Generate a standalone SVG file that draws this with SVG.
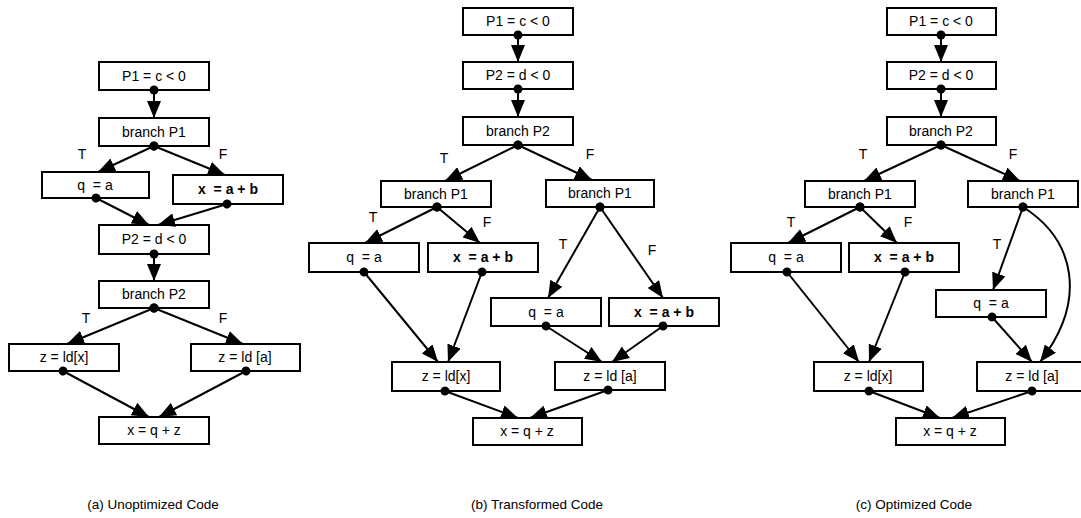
<svg xmlns="http://www.w3.org/2000/svg" width="1081" height="518" viewBox="0 0 1081 518" xml:space="preserve">
  <style>
    .node rect { fill: #fff; stroke: #000; stroke-width: 2; }
    .node text, .lbl, .cap { font-family: "Liberation Sans", Arial, sans-serif; font-size: 14px; text-anchor: middle; fill: #000; white-space: pre; }
    .node text.b { font-weight: bold; }
    .cap { font-size: 13.5px; }
    .edge { stroke: #000; stroke-width: 2; fill: none; marker-start: url(#dot); marker-end: url(#arrow); }
  </style>
  <defs>
    <marker id="arrow" markerUnits="userSpaceOnUse" markerWidth="18" markerHeight="14" refX="17" refY="7" orient="auto">
      <path d="M0,0 L17,7 L0,14 Z" fill="#000"/>
    </marker>
    <marker id="dot" markerUnits="userSpaceOnUse" markerWidth="10" markerHeight="10" refX="5" refY="5" orient="auto">
      <circle cx="5" cy="5" r="4.5" fill="#000"/>
    </marker>
  </defs>
  <rect width="1081" height="518" fill="#fff"/>

  <!-- (a) unoptimized code -->
  <g id="a-p1" class="node"><rect x="99" y="62" width="110" height="28"/><text x="154" y="81">P1 = c &lt; 0</text></g>
  <g id="a-br1" class="node"><rect x="99" y="118" width="110" height="28"/><text x="154" y="137">branch P1</text></g>
  <g id="a-q" class="node"><rect x="42" y="172" width="107" height="26"/><text x="95" y="190" xml:space="preserve">q  = a</text></g>
  <g id="a-x" class="node"><rect x="173" y="175" width="110" height="29"/><text class="b" x="228" y="194" xml:space="preserve">x  = a + b</text></g>
  <g id="a-p2" class="node"><rect x="99" y="225" width="110" height="29"/><text x="154" y="244">P2 = d &lt; 0</text></g>
  <g id="a-br2" class="node"><rect x="99" y="281" width="110" height="27"/><text x="154" y="299">branch P2</text></g>
  <g id="a-ldx" class="node"><rect x="9" y="344" width="110" height="27"/><text x="64" y="362">z = ld[x]</text></g>
  <g id="a-lda" class="node"><rect x="191" y="344" width="109" height="27"/><text x="245" y="362">z = ld [a]</text></g>
  <g id="a-sum" class="node"><rect x="99" y="417" width="110" height="27"/><text x="154" y="435">x = q + z</text></g>

  <!-- (b) transformed code -->
  <g id="b-p1" class="node"><rect x="463" y="8" width="110" height="27"/><text x="518" y="26">P1 = c &lt; 0</text></g>
  <g id="b-p2" class="node"><rect x="463" y="62" width="110" height="27"/><text x="518" y="80">P2 = d &lt; 0</text></g>
  <g id="b-br2" class="node"><rect x="463" y="117" width="110" height="28"/><text x="518" y="136">branch P2</text></g>
  <g id="b-br1t" class="node"><rect x="381" y="181" width="110" height="26"/><text x="436" y="199">branch P1</text></g>
  <g id="b-br1f" class="node"><rect x="546" y="180" width="108" height="27"/><text x="600" y="198">branch P1</text></g>
  <g id="b-q1" class="node"><rect x="309" y="243" width="110" height="29"/><text x="364" y="262" xml:space="preserve">q  = a</text></g>
  <g id="b-x1" class="node"><rect x="428" y="243" width="110" height="29"/><text class="b" x="483" y="262" xml:space="preserve">x  = a + b</text></g>
  <g id="b-q2" class="node"><rect x="491" y="298" width="110" height="28"/><text x="546" y="317" xml:space="preserve">q  = a</text></g>
  <g id="b-x2" class="node"><rect x="609" y="298" width="110" height="28"/><text class="b" x="664" y="317" xml:space="preserve">x  = a + b</text></g>
  <g id="b-ldx" class="node"><rect x="392" y="362" width="108" height="29"/><text x="446" y="381">z = ld[x]</text></g>
  <g id="b-lda" class="node"><rect x="555" y="362" width="110" height="28"/><text x="610" y="381">z = ld [a]</text></g>
  <g id="b-sum" class="node"><rect x="473" y="418" width="109" height="27"/><text x="527" y="436">x = q + z</text></g>

  <!-- (c) optimized code -->
  <g id="c-p1" class="node"><rect x="887" y="8" width="109" height="27"/><text x="941" y="26">P1 = c &lt; 0</text></g>
  <g id="c-p2" class="node"><rect x="887" y="62" width="109" height="27"/><text x="941" y="80">P2 = d &lt; 0</text></g>
  <g id="c-br2" class="node"><rect x="887" y="117" width="109" height="28"/><text x="941" y="136">branch P2</text></g>
  <g id="c-br1t" class="node"><rect x="805" y="181" width="110" height="26"/><text x="860" y="199">branch P1</text></g>
  <g id="c-br1f" class="node"><rect x="968" y="181" width="110" height="26"/><text x="1023" y="199">branch P1</text></g>
  <g id="c-q1" class="node"><rect x="731" y="243" width="110" height="29"/><text x="786" y="262" xml:space="preserve">q  = a</text></g>
  <g id="c-x1" class="node"><rect x="849" y="243" width="110" height="29"/><text class="b" x="904" y="262" xml:space="preserve">x  = a + b</text></g>
  <g id="c-q2" class="node"><rect x="936" y="290" width="110" height="27"/><text x="991" y="308" xml:space="preserve">q  = a</text></g>
  <g id="c-ldx" class="node"><rect x="814" y="362" width="109" height="29"/><text x="868" y="381">z = ld[x]</text></g>
  <g id="c-lda" class="node"><rect x="977" y="362" width="110" height="29"/><text x="1032" y="381">z = ld [a]</text></g>
  <g id="c-sum" class="node"><rect x="896" y="418" width="109" height="27"/><text x="950" y="436">x = q + z</text></g>

  <!-- connectors -->
  <g id="connectors">
    <!-- (a) -->
    <line class="edge" x1="154" y1="90" x2="154" y2="118"/>
    <line class="edge" x1="154" y1="146" x2="98" y2="172"/>
    <line class="edge" x1="154" y1="146" x2="225" y2="175"/>
    <line class="edge" x1="96" y1="198" x2="149" y2="225"/>
    <line class="edge" x1="227" y1="204" x2="158" y2="225"/>
    <line class="edge" x1="154" y1="254" x2="154" y2="281"/>
    <line class="edge" x1="154" y1="308" x2="67" y2="344"/>
    <line class="edge" x1="154" y1="308" x2="243" y2="344"/>
    <line class="edge" x1="63" y1="371" x2="149" y2="417"/>
    <line class="edge" x1="246" y1="371" x2="159" y2="417"/>
    <!-- (b) -->
    <line class="edge" x1="518" y1="35" x2="518" y2="62"/>
    <line class="edge" x1="518" y1="89" x2="518" y2="117"/>
    <line class="edge" x1="518" y1="145" x2="445" y2="181"/>
    <line class="edge" x1="518" y1="145" x2="592" y2="180"/>
    <line class="edge" x1="437" y1="207" x2="365" y2="243"/>
    <line class="edge" x1="437" y1="207" x2="480" y2="243"/>
    <line class="edge" x1="600" y1="207" x2="548" y2="298"/>
    <line class="edge" x1="600" y1="207" x2="663" y2="298"/>
    <line class="edge" x1="364" y1="272" x2="438" y2="362"/>
    <line class="edge" x1="482" y1="272" x2="448" y2="362"/>
    <line class="edge" x1="546" y1="326" x2="602" y2="362"/>
    <line class="edge" x1="663" y1="326" x2="612" y2="362"/>
    <line class="edge" x1="445" y1="391" x2="518" y2="418"/>
    <line class="edge" x1="608" y1="390" x2="530" y2="418"/>
    <!-- (c) -->
    <line class="edge" x1="941" y1="35" x2="941" y2="62"/>
    <line class="edge" x1="941" y1="89" x2="941" y2="117"/>
    <line class="edge" x1="941" y1="145" x2="864" y2="181"/>
    <line class="edge" x1="941" y1="145" x2="1020" y2="181"/>
    <line class="edge" x1="860" y1="207" x2="788" y2="243"/>
    <line class="edge" x1="860" y1="207" x2="897" y2="243"/>
    <line class="edge" x1="1023" y1="207" x2="993" y2="290"/>
    <path class="edge" d="M1023,207 C1075,240 1088,300 1040,362"/>
    <line class="edge" x1="787" y1="272" x2="859" y2="362"/>
    <line class="edge" x1="905" y1="272" x2="869" y2="362"/>
    <line class="edge" x1="992" y1="317" x2="1032" y2="362"/>
    <line class="edge" x1="869" y1="391" x2="940" y2="418"/>
    <line class="edge" x1="1032" y1="391" x2="952" y2="418"/>
  </g>

  <!-- branch labels -->
  <g id="labels">
    <text class="lbl" x="82" y="159">T</text>
    <text class="lbl" x="223" y="159">F</text>
    <text class="lbl" x="86" y="323">T</text>
    <text class="lbl" x="223" y="323">F</text>
    <text class="lbl" x="444" y="163">T</text>
    <text class="lbl" x="590" y="159">F</text>
    <text class="lbl" x="373" y="222">T</text>
    <text class="lbl" x="487" y="227">F</text>
    <text class="lbl" x="563" y="249">T</text>
    <text class="lbl" x="652" y="255">F</text>
    <text class="lbl" x="863" y="159">T</text>
    <text class="lbl" x="1013" y="159">F</text>
    <text class="lbl" x="791" y="227">T</text>
    <text class="lbl" x="908" y="227">F</text>
    <text class="lbl" x="997" y="249">T</text>
  </g>

  <!-- captions -->
  <text class="cap" x="153" y="509">(a) Unoptimized Code</text>
  <text class="cap" x="537" y="509">(b) Transformed Code</text>
  <text class="cap" x="914" y="509">(c) Optimized Code</text>
</svg>
